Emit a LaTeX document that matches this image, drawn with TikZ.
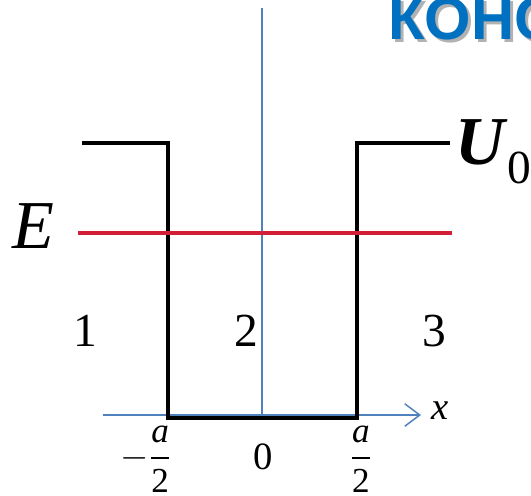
\documentclass[tikz,border=0pt]{standalone}
\usepackage{fontspec}
\usepackage{amsmath}
\usepackage{tikz}
\usetikzlibrary{arrows.meta,positioning,calc}
\setmainfont{Liberation Serif}
\newfontfamily\titlefont{Liberation Sans}
\definecolor{axisblue}{RGB}{79,129,189}
\definecolor{levelred}{RGB}{210,30,55}
\definecolor{titleblue}{RGB}{0,112,192}
\tikzset{
    axis/.style={draw=axisblue,line width=0.85pt},
    axarr/.style={-{Straight Barb[length=3mm,width=4.5mm,line width=0.85pt]},axis},
    well/.style={draw=black,line width=2.3pt},
    level/.style={draw=levelred,line width=2.1pt},
    region/.style={font=\fontsize{27}{30}\selectfont,inner sep=0pt},
    big/.style={font=\fontsize{39}{42}\selectfont\itshape,inner sep=0pt},
    tick/.style={font=\fontsize{20}{22}\selectfont,inner sep=0pt},
    headline/.style={font=\titlefont\bfseries\fontsize{34}{36}\selectfont,inner sep=0pt,anchor=base west}
}
\begin{document}
\begin{tikzpicture}[x=0.02cm,y=-0.02cm]
    \useasboundingbox (0,0) rectangle (531,495);
    % title (cut off by the page)
    \begin{scope}
        \clip (0,0) rectangle (531,495);
        \node[headline,text=black!30] at (391,42) {КОНС};
        \node[headline,text=titleblue] (title) at (388,39) {КОНС};
    \end{scope}

    % axes
    \coordinate (ytop) at (262,8);
    \coordinate (origin) at (262,415);
    \coordinate (xleft) at (103,415);
    \coordinate (xright) at (421,415);
    \draw[axis] (ytop) -- (origin);
    \draw[axarr] (xleft) -- (xright);
    \node[font=\fontsize{22}{24}\selectfont\itshape,inner sep=0pt,anchor=west] (xlab) at (431,411) {x};

    % potential well
    \coordinate (lout) at (82,143);
    \coordinate (ltop) at (168,143);
    \coordinate (lbot) at (168,418);
    \coordinate (rbot) at (357,418);
    \coordinate (rtop) at (357,143);
    \coordinate (rout) at (450,143);
    \draw[well] (lout) -- (ltop) -- (lbot) -- (rbot) -- (rtop) -- (rout);
    \node[big,font=\fontsize{39}{42}\selectfont\bfseries\itshape,anchor=west] (U) at (455,142) {U};
    \node[region,anchor=west] (U0) at (U.east) [yshift=-0.52cm,xshift=1pt] {0};

    % energy level
    \coordinate (eleft) at (78,233);
    \coordinate (eright) at (452,233);
    \draw[level] (eleft) -- (eright);
    \node[big] (E) at (33,226) {E};

    % regions
    \node[region] (r1) at (85,331) {1};
    \node[region] (r2) at (246,331) {2};
    \node[region] (r3) at (434,331) {3};

    % ticks
    \node[tick] (mhalf) at (146,459) {$-\dfrac{\textit{a}}{\text{2}}$};
    \node[tick,font=\fontsize{22}{24}\selectfont] (zero) at (263,457) {0};
    \node[tick] (phalf) at (361,459) {$\dfrac{\textit{a}}{\text{2}}$};
\end{tikzpicture}
\end{document}
